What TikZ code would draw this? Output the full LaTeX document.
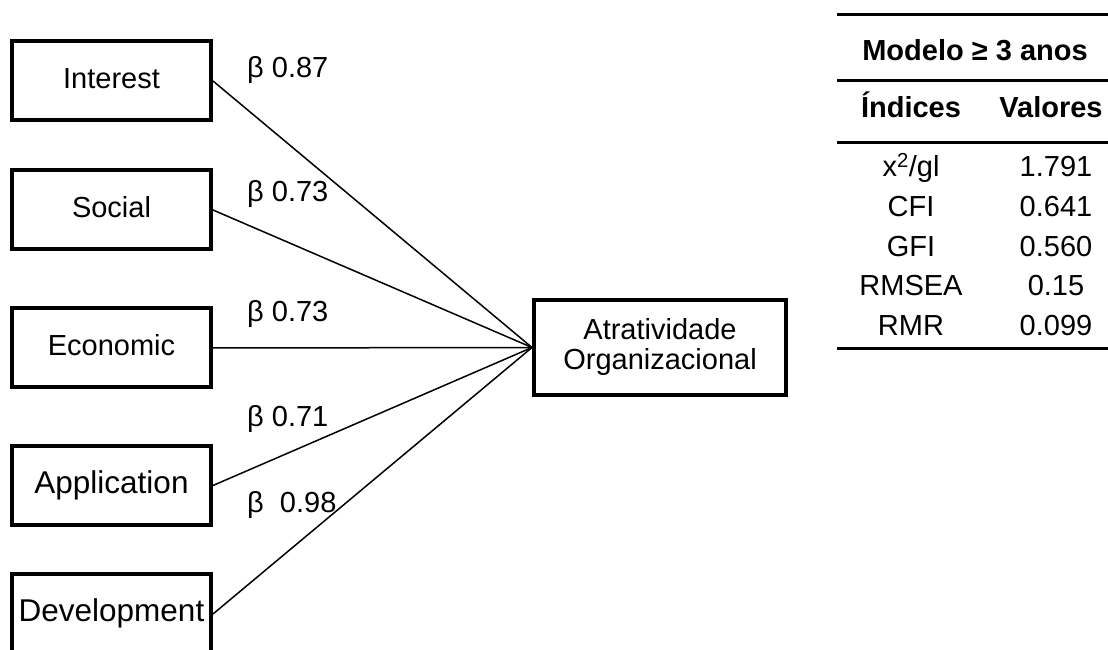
\documentclass[tikz,border=0pt]{standalone}
\usepackage{fontspec}
\setmainfont{Liberation Sans}
\begin{document}
\begin{tikzpicture}[x=1pt,y=1pt,
  txt/.style={font=\fontsize{29}{30}\selectfont, inner sep=0pt},
  varbox/.style={draw, line width=4pt, minimum width=199pt, minimum height=79pt,
    inner sep=0pt, font=\fontsize{29}{30}\selectfont, text height=20.9pt, text depth=6.4pt},
  bigtext/.style={font=\fontsize{31.5}{32}\selectfont, text height=22.7pt, text depth=7pt},
  conn/.style={line width=1.5pt},
  rulel/.style={line width=3pt},
  blab/.style={txt, anchor=base west}]
\useasboundingbox (0,0) rectangle (1108,650);
\clip (0,0) rectangle (1108,650);
% predictor boxes
\node[varbox] (int) at (111.5,569) {Interest};
\node[varbox] (soc) at (111.5,440) {Social};
\node[varbox] (eco) at (111.5,302) {Economic};
\node[varbox, bigtext] (app) at (111.5,164.5) {Application};
\node[varbox, bigtext, minimum height=80pt] (dev) at (111.5,36) {Development};
% outcome box
\node[draw, line width=4pt, minimum width=252pt, minimum height=95pt, inner sep=0pt,
  align=center, font=\fontsize{29}{30}\selectfont] (atr) at (660,302.5)
  {Atratividade\\Organizacional};
% connectors
\draw[conn] (int.east) -- (atr.west);
\draw[conn] (soc.east) -- (atr.west);
\draw[conn] (eco.east) -- (atr.west);
\draw[conn] (app.east) -- (atr.west);
\draw[conn] (dev.east) -- (atr.west);
% path labels
\node[blab] (l1) at (247,572) {β 0.87};
\node[blab] (l2) at (247,448) {β 0.73};
\node[blab] (l3) at (247,328) {β 0.73};
\node[blab] (l4) at (247,223) {β 0.71};
\node[blab] (l5) at (247,137) {β\ \ 0.98};
% table
\draw[rulel] (837,635) -- (1108,635);
\draw[rulel] (837,569) -- (1108,569);
\draw[rulel] (837,507) -- (1108,507);
\draw[rulel] (837,301) -- (1108,301);
\node[txt, anchor=base, font=\fontsize{29}{30}\selectfont\bfseries] (th) at (975,589) {Modelo ≥ 3 anos};
\node[txt, anchor=base, font=\fontsize{29}{30}\selectfont\bfseries] (ch1) at (911,532) {Índices};
\node[txt, anchor=base, font=\fontsize{29}{30}\selectfont\bfseries] (ch2) at (1051,532) {Valores};
\node[txt, anchor=base] (r1a) at (911,473) {x\textsuperscript{2}/gl};
\node[txt, anchor=base] (r1b) at (1056,473) {1.791};
\node[txt, anchor=base] (r2a) at (911,433) {CFI};
\node[txt, anchor=base] (r2b) at (1056,433) {0.641};
\node[txt, anchor=base] (r3a) at (911,393) {GFI};
\node[txt, anchor=base] (r3b) at (1056,393) {0.560};
\node[txt, anchor=base] (r4a) at (911,354) {RMSEA};
\node[txt, anchor=base] (r4b) at (1056,354) {0.15};
\node[txt, anchor=base] (r5a) at (911,314) {RMR};
\node[txt, anchor=base] (r5b) at (1056,314) {0.099};
\end{tikzpicture}
\end{document}
